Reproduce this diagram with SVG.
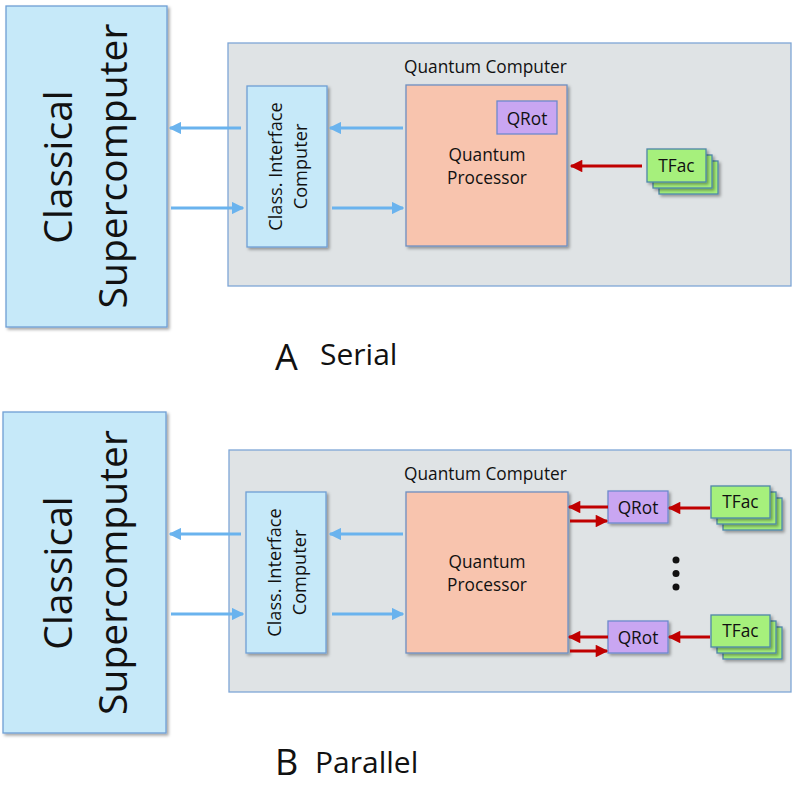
<svg xmlns="http://www.w3.org/2000/svg" width="796" height="786" viewBox="0 0 796 786">
<defs>
<style>
text{font-family:"Open Sans","Noto Sans","Liberation Sans",sans-serif;fill:#111;}
.cls{fill:#c6e9f9;stroke:#6f9fd4;stroke-width:1.3;}
.qc{fill:#dfe3e5;stroke:#7ea6d6;stroke-width:1.3;}
.qp{fill:#f8c4ae;stroke:#6e8fc0;stroke-width:1.3;}
.qr{fill:#c9a6f2;stroke:#6d89cc;stroke-width:1.3;}
.tf{fill:#a6f07c;stroke:#4e87a8;stroke-width:1.3;}
.blue{stroke:#6ab3ee;stroke-width:3;fill:none;marker-end:url(#hb);}
.red{stroke:#c00000;stroke-width:3;fill:none;marker-end:url(#hr);}
.big{font-size:39px;}
.mid{font-size:17.3px;}
.ifc{font-size:18.2px;}
</style>
<filter id="sh" x="-10%" y="-10%" width="130%" height="130%">
<feDropShadow dx="2" dy="2" stdDeviation="1.5" flood-color="#000" flood-opacity="0.35"/>
</filter>
<marker id="hb" viewBox="0 0 10 10" refX="9" refY="5" markerWidth="4.2" markerHeight="4.2" markerUnits="strokeWidth" orient="auto">
<path d="M0,0 L10,5 L0,10 Z" fill="#6ab3ee"/>
</marker>
<marker id="hr" viewBox="0 0 10 10" refX="9" refY="5" markerWidth="4.4" markerHeight="4.2" markerUnits="strokeWidth" orient="auto">
<path d="M0,0 L10,5 L0,10 Z" fill="#c00000"/>
</marker>
</defs>

<!-- Panel A -->
<g id="A-classical">
<rect class="cls" x="6" y="6" width="161" height="321" filter="url(#sh)"/>
<text class="big" text-anchor="middle" transform="translate(72,167) rotate(-90)">Classical</text>
<text class="big" text-anchor="middle" transform="translate(127,166) rotate(-90)">Supercomputer</text>
</g>
<g id="A-quantum-computer">
<rect class="qc" x="228" y="43" width="563" height="243"/>
<text class="mid" x="404" y="73">Quantum Computer</text>
</g>
<g id="A-interface">
<rect class="cls" x="247" y="86" width="80" height="161" filter="url(#sh)"/>
<text class="ifc" text-anchor="middle" transform="translate(282,166.5) rotate(-90)">Class. Interface</text>
<text class="ifc" text-anchor="middle" transform="translate(307,166.5) rotate(-90)">Computer</text>
</g>
<g id="A-processor">
<rect class="qp" x="406" y="85" width="161" height="161" filter="url(#sh)"/>
<text class="mid" text-anchor="middle" x="487" y="161">Quantum</text>
<text class="mid" text-anchor="middle" x="487" y="184">Processor</text>
</g>
<g id="A-qrot">
<rect class="qr" x="497" y="101" width="60" height="33"/>
<text class="mid" text-anchor="middle" x="527" y="125">QRot</text>
</g>
<g id="A-tfac">
<rect class="tf" x="659" y="161" width="59" height="33" filter="url(#sh)"/>
<rect class="tf" x="653" y="155" width="59" height="33" filter="url(#sh)"/>
<rect class="tf" x="647" y="149" width="59" height="33" filter="url(#sh)"/>
<text class="mid" text-anchor="middle" x="676.5" y="172">TFac</text>
</g>
<g id="A-label">
<text x="275" y="370" style="font-size:36px">A</text>
<text x="320" y="365" style="font-size:30px">Serial</text>
</g>

<!-- Panel B -->
<g id="B-classical">
<rect class="cls" x="3" y="412" width="163" height="321" filter="url(#sh)"/>
<text class="big" text-anchor="middle" transform="translate(72,573) rotate(-90)">Classical</text>
<text class="big" text-anchor="middle" transform="translate(127,572.5) rotate(-90)">Supercomputer</text>
</g>
<g id="B-quantum-computer">
<rect class="qc" x="229" y="450" width="562" height="242"/>
<text class="mid" x="404" y="480">Quantum Computer</text>
</g>
<g id="B-interface">
<rect class="cls" x="246" y="492" width="80" height="161" filter="url(#sh)"/>
<text class="ifc" text-anchor="middle" transform="translate(281,572.5) rotate(-90)">Class. Interface</text>
<text class="ifc" text-anchor="middle" transform="translate(306,572.5) rotate(-90)">Computer</text>
</g>
<g id="B-processor">
<rect class="qp" x="406" y="492" width="162" height="161" filter="url(#sh)"/>
<text class="mid" text-anchor="middle" x="487" y="568">Quantum</text>
<text class="mid" text-anchor="middle" x="487" y="591">Processor</text>
</g>
<g id="B-qrot-1">
<rect class="qr" x="608" y="491" width="60" height="32" filter="url(#sh)"/>
<text class="mid" text-anchor="middle" x="638" y="514">QRot</text>
</g>
<g id="B-qrot-2">
<rect class="qr" x="608" y="621" width="60" height="32" filter="url(#sh)"/>
<text class="mid" text-anchor="middle" x="638" y="644">QRot</text>
</g>
<g id="B-tfac-1">
<rect class="tf" x="723" y="498" width="59" height="32" filter="url(#sh)"/>
<rect class="tf" x="717" y="492" width="59" height="32" filter="url(#sh)"/>
<rect class="tf" x="711" y="486" width="59" height="32" filter="url(#sh)"/>
<text class="mid" text-anchor="middle" x="740.5" y="508">TFac</text>
</g>
<g id="B-tfac-2">
<rect class="tf" x="723" y="627" width="59" height="32" filter="url(#sh)"/>
<rect class="tf" x="717" y="621" width="59" height="32" filter="url(#sh)"/>
<rect class="tf" x="711" y="615" width="59" height="32" filter="url(#sh)"/>
<text class="mid" text-anchor="middle" x="740.5" y="637">TFac</text>
</g>
<g id="B-dots" fill="#111">
<circle cx="676" cy="560" r="3.5"/>
<circle cx="676" cy="573.5" r="3.5"/>
<circle cx="676" cy="587" r="3.5"/>
</g>
<g id="B-label">
<text x="275" y="775" style="font-size:36px">B</text>
<text x="315" y="773" style="font-size:30px">Parallel</text>
</g>

<g id="connectors">
<line class="blue" x1="241" y1="128" x2="170" y2="128"/>
<line class="blue" x1="171" y1="208" x2="243" y2="208"/>
<line class="blue" x1="403" y1="128" x2="330" y2="128"/>
<line class="blue" x1="332" y1="208" x2="403" y2="208"/>
<line class="red" x1="642" y1="166" x2="571" y2="166"/>

<line class="blue" x1="241" y1="534" x2="170" y2="534"/>
<line class="blue" x1="171" y1="614" x2="243" y2="614"/>
<line class="blue" x1="403" y1="534" x2="330" y2="534"/>
<line class="blue" x1="332" y1="614" x2="403" y2="614"/>

<line class="red" x1="608" y1="507" x2="569" y2="507"/>
<line class="red" x1="570" y1="521" x2="607" y2="521"/>
<line class="red" x1="710" y1="508" x2="669" y2="508"/>
<line class="red" x1="608" y1="637" x2="569" y2="637"/>
<line class="red" x1="570" y1="651" x2="607" y2="651"/>
<line class="red" x1="710" y1="637" x2="669" y2="637"/>
</g>
</svg>
